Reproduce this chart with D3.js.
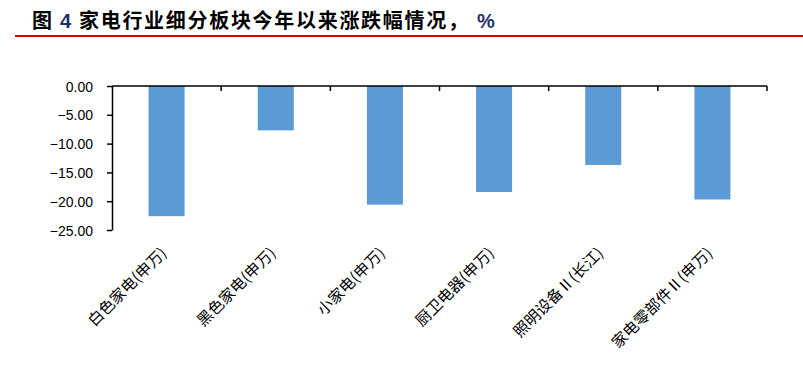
<!DOCTYPE html>
<html><head><meta charset="utf-8">
<script src="https://cdn.jsdelivr.net/npm/d3@7"></script>
<style>
body{margin:0;background:#fff;}
svg{display:block;}
</style></head>
<body>
<svg id="c" width="803" height="384"></svg>
<script>
const categories = ["白色家电(申万)","黑色家电(申万)","小家电(申万)","厨卫电器(申万)","照明设备Ⅱ(长江)","家电零部件Ⅱ(申万)"];
const values = [-22.6, -7.7, -20.6, -18.4, -13.7, -19.7];
const yTicks = [0, -5, -10, -15, -20, -25];

(function(){
const svg = d3.select("#c");
const cjk = "'Noto Sans CJK SC','Noto Sans',sans-serif";

// Title
const t = svg.append("text").attr("x", 32).attr("y", 28)
  .attr("font-family", cjk).attr("font-weight", 700).attr("font-size", 20)
  .attr("letter-spacing", 1.7).attr("fill", "#000");
t.append("tspan").text("图 ");
t.append("tspan").attr("fill", "#1f2f6e").attr("font-family", "'Liberation Sans',Arial,sans-serif").text("4");
t.append("tspan").text(" 家电行业细分板块今年以来涨跌幅情况，");
t.append("tspan").attr("fill", "#1f2f6e").attr("font-family", "'Liberation Sans',Arial,sans-serif").text(" %");

svg.append("line").attr("x1", 15).attr("x2", 803).attr("y1", 36).attr("y2", 36)
  .attr("stroke", "#e00000").attr("stroke-width", 2);

const pl = 112, pr = 767, pt = 86, pb = 230;
const x = d3.scaleBand().domain(categories).range([pl, pr]).paddingInner(0.67).paddingOuter(0.335);
const y = d3.scaleLinear().domain([0, -25]).range([pt, pb]);

// bars
svg.append("g").selectAll("rect").data(values).join("rect")
  .attr("x", (d, i) => x(categories[i]))
  .attr("width", x.bandwidth())
  .attr("y", y(0))
  .attr("height", d => y(d) - y(0))
  .attr("fill", "#5b9bd5");

// y axis
const ya = svg.append("g").attr("transform", `translate(${pl},0)`)
  .call(d3.axisLeft(y).tickValues(yTicks).tickFormat(d3.format(".2f")).tickSize(5).tickSizeOuter(0));
ya.select(".domain").attr("stroke", "#000").attr("stroke-width", 1.5);
ya.selectAll(".tick line").attr("stroke", "#000").attr("stroke-width", 1.5);
ya.selectAll(".tick text").attr("font-family", "'Liberation Sans',Arial,sans-serif")
  .attr("font-size", 14).attr("fill", "#000").attr("x", -19).attr("dy", "0.36em");

// x axis line at zero with boundary ticks
const xa = svg.append("g");
xa.append("line").attr("x1", pl).attr("x2", pr).attr("y1", y(0)).attr("y2", y(0))
  .attr("stroke", "#000").attr("stroke-width", 1.5);
const step = x.step();
const bounds = d3.range(1, categories.length + 1).map(i => pl + i * step);
xa.selectAll("line.b").data(bounds).join("line").attr("class", "b")
  .attr("x1", d => d).attr("x2", d => d).attr("y1", y(0)).attr("y2", y(0) + 5)
  .attr("stroke", "#000").attr("stroke-width", 1.5);

// category labels
svg.append("g").selectAll("text").data(categories).join("text")
  .attr("transform", d => `translate(${x(d) + x.bandwidth() / 2 + 1},${pb + 24}) rotate(-45)`)
  .attr("text-anchor", "end")
  .attr("font-family", cjk).attr("font-size", 15.5).attr("fill", "#000")
  .text(d => d);
})();
</script>
</body></html>
